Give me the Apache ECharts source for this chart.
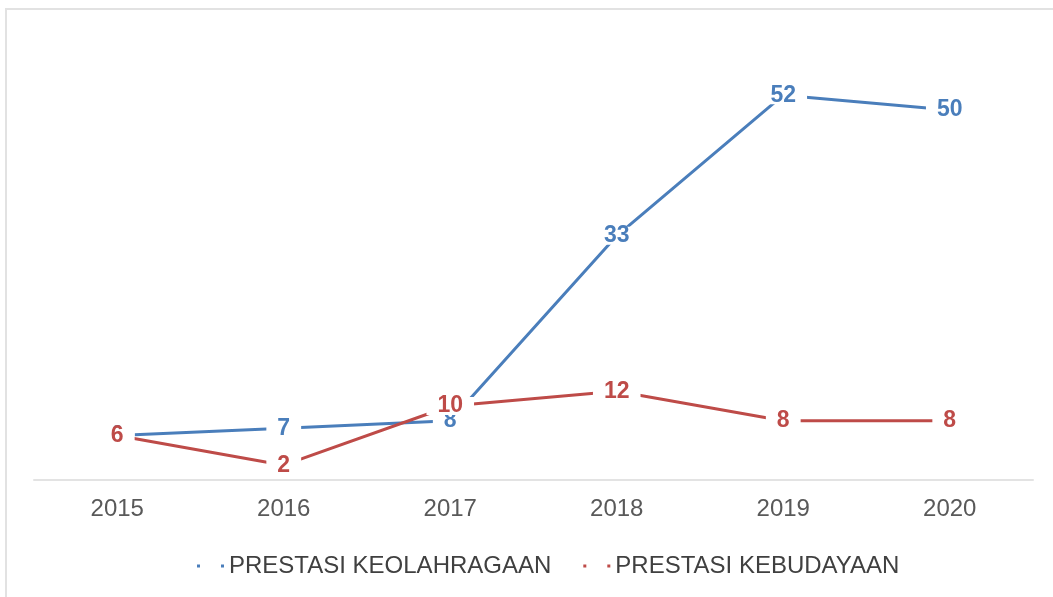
<!DOCTYPE html>
<html>
<head>
<meta charset="utf-8">
<style>
  html, body { margin: 0; padding: 0; background: #fff; }
  #chart { width: 1053px; height: 597px; }
</style>
<script src="https://cdn.jsdelivr.net/npm/echarts@6/dist/echarts.min.js"></script>
</head>
<body>
<div id="chart"></div>
<script>
  // data
  const years = ["2015", "2016", "2017", "2018", "2019", "2020"];
  const olahraga = [6, 7, 8, 33, 52, 50]; // PRESTASI KEOLAHRAGAAN
  const budaya = [6, 2, 10, 12, 8, 8]; // PRESTASI KEBUDAYAAN

  const blue = "#4a7ebb";
  const red = "#be4b48";
  const dots = "path://M0,0h3v3h-3z M24,0h3v3h-3z";
  const font = "Liberation Sans, Arial, sans-serif";

  const chart = echarts.init(document.getElementById("chart"));

  const labelStyle = (color) => ({
    show: true,
    position: "inside",
    color: color,
    fontFamily: font,
    fontWeight: "bold",
    fontSize: 23,
    lineHeight: 16,
    backgroundColor: "#fff",
    padding: [1, 11],
  });

  chart.setOption({
    animation: false,
    graphic: [
      {
        type: "polyline",
        shape: { points: [[6, 597], [6, 9], [1053, 9]] },
        style: { stroke: "#e2e2e2", lineWidth: 2, fill: null },
        silent: true,
      },
    ],
    grid: {
      left: 34,
      right: 20,
      top: 36,
      bottom: 117,
    },
    legend: {
      bottom: 14,
      left: 192,
      itemWidth: 27,
      itemHeight: 3,
      itemGap: 32,
      textStyle: {
        color: "#404040",
        fontSize: 24,
        fontFamily: font,
      },
      data: [
        { name: "PRESTASI KEOLAHRAGAAN", icon: dots },
        { name: "PRESTASI KEBUDAYAAN", icon: dots },
      ],
    },
    xAxis: {
      type: "category",
      data: years,
      boundaryGap: true,
      axisLine: { lineStyle: { color: "#e3e3e3", width: 2 } },
      axisTick: { show: false },
      axisLabel: {
        color: "#595959",
        fontSize: 24,
        fontFamily: font,
        margin: 17,
      },
    },
    yAxis: {
      type: "value",
      min: 0,
      max: 60,
      show: false,
      splitLine: { show: false },
    },
    series: [
      {
        name: "PRESTASI KEOLAHRAGAAN",
        type: "line",
        data: olahraga,
        symbol: "circle",
        symbolSize: 0,
        showSymbol: true,
        color: blue,
        lineStyle: { color: blue, width: 3 },
        label: labelStyle(blue),
        z: 3,
      },
      {
        name: "PRESTASI KEBUDAYAAN",
        type: "line",
        data: budaya,
        symbol: "circle",
        symbolSize: 0,
        showSymbol: true,
        color: red,
        lineStyle: { color: red, width: 3 },
        label: labelStyle(red),
        z: 4,
      },
    ],
  });
</script>
</body>
</html>
